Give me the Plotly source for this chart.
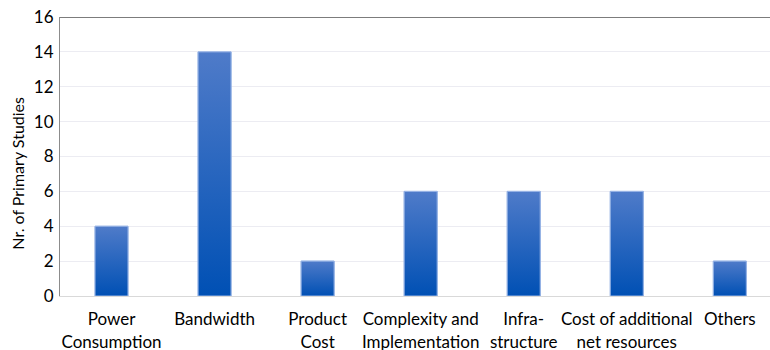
import plotly.graph_objects as go

categories = ["Power<br>Consumption", "Bandwidth", "Product<br>Cost",
              "Complexity and<br>Implementation", "Infra-<br>structure",
              "Cost of additional<br>net resources", "Others"]
studies = [4, 14, 2, 6, 6, 6, 2]
y_ticks = [0, 2, 4, 6, 8, 10, 12, 14, 16]

BAR_W = 0.32
FONT = "Lato"

fig = go.Figure()

# base bars (solid) so hover/structure comes from a real bar trace
fig.add_trace(go.Bar(
    x=list(range(len(categories))), y=studies, width=BAR_W,
    marker=dict(color="#1f5fbf", line=dict(color="#9ab6e6", width=1)),
    hoverinfo="y", showlegend=False,
))

# vertical gradient overlay on each bar, spanning that bar's own height
for i, v in enumerate(studies):
    x0, x1 = i - BAR_W / 2, i + BAR_W / 2
    fig.add_trace(go.Scatter(
        x=[x0, x1, x1, x0, x0], y=[0, 0, v, v, 0],
        mode="lines", fill="toself",
        line=dict(color="#9ab6e6", width=1),
        fillgradient=dict(type="vertical",
                          colorscale=[[0, "#0050b4"], [1, "#4f7bc9"]]),
        hoverinfo="skip", showlegend=False,
    ))

fig.update_layout(
    width=770, height=350,
    margin=dict(l=60, r=0, t=17, b=54, autoexpand=False),
    plot_bgcolor="white", paper_bgcolor="white",
    font=dict(family=FONT, size=17, color="#000000"),
    showlegend=False,
    shapes=[dict(type="line", xref="paper", yref="y", x0=0, x1=1, y0=16, y1=16,
                 line=dict(color="#505050", width=1.5))],
    annotations=[dict(text="Nr. of Primary Studies", textangle=-90,
                      xref="paper", yref="paper", x=-0.06, y=0.44,
                      xanchor="center", yanchor="middle", showarrow=False,
                      font=dict(size=16))],
)
fig.update_xaxes(
    range=[-0.5, 6.39], tickmode="array",
    tickvals=list(range(len(categories))), ticktext=categories,
    showgrid=False, zeroline=False, showline=True, linecolor="#d9d9d9",
    linewidth=1, ticks="", tickfont=dict(size=17), ticklabelstandoff=8,
    automargin=False,
)
fig.update_yaxes(
    range=[0, 16], tickmode="array", tickvals=y_ticks,
    showgrid=True, gridcolor="#ececf2", gridwidth=1,
    zeroline=False, showline=True, linecolor="#8c8c8c", linewidth=1,
    ticks="", tickfont=dict(size=17), ticklabelstandoff=2, automargin=False,
)

fig.write_html("out.html")
